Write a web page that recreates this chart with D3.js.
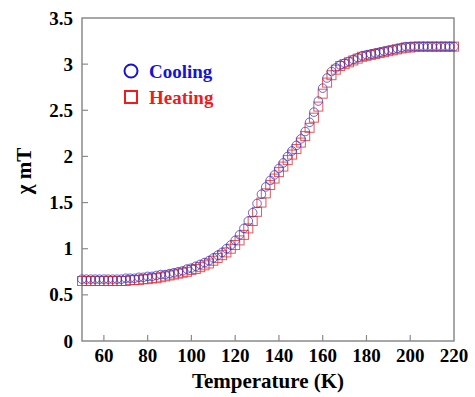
<!DOCTYPE html>
<html>
<head>
<meta charset="utf-8">
<script src="https://cdn.jsdelivr.net/npm/d3@7"></script>
<style>
  body { margin: 0; background: #fff; }
</style>
</head>
<body>
<svg id="Target" width="475" height="397"></svg>
<script>
// temperatures (K), one reading every 2 K
const temps = [50,52,54,56,58,60,62,64,66,68,70,72,74,76,78,80,82,84,86,88,90,92,94,96,98,
    100,102,104,106,108,110,112,114,116,118,120,122,124,126,128,130,132,134,136,138,140,142,144,146,148,
    150,152,154,156,158,160,162,164,166,168,170,172,174,176,178,180,182,184,186,188,190,192,194,196,198,
    200,202,204,206,208,210,212,214,216,218,220];

const cooling = [0.67,0.67,0.67,0.67,0.67,0.67,0.67,0.67,0.67,0.67,0.68,0.68,0.68,0.69,0.69,0.70,0.70,0.71,0.72,0.72,0.73,0.74,0.75,0.76,0.78,
    0.79,0.81,0.83,0.85,0.87,0.90,0.93,0.96,1.00,1.04,1.09,1.15,1.22,1.30,1.39,1.49,1.59,1.67,1.74,1.80,1.87,1.93,2.00,2.06,2.12,
    2.19,2.27,2.37,2.48,2.60,2.74,2.85,2.92,2.96,2.99,3.01,3.03,3.05,3.07,3.09,3.10,3.11,3.12,3.13,3.14,3.15,3.16,3.17,3.18,3.19,
    3.19,3.19,3.19,3.19,3.19,3.19,3.19,3.19,3.19,3.19,3.19];

const heating = [0.65,0.65,0.65,0.65,0.65,0.65,0.65,0.65,0.65,0.65,0.65,0.66,0.66,0.66,0.67,0.67,0.68,0.68,0.69,0.70,0.71,0.72,0.73,0.74,0.75,
    0.77,0.78,0.80,0.82,0.84,0.87,0.90,0.93,0.96,1.00,1.04,1.09,1.15,1.22,1.30,1.40,1.50,1.60,1.69,1.76,1.83,1.89,1.96,2.02,2.08,
    2.15,2.22,2.31,2.42,2.54,2.68,2.80,2.88,2.94,2.98,3.00,3.02,3.04,3.06,3.08,3.09,3.10,3.11,3.12,3.13,3.14,3.15,3.16,3.17,3.18,
    3.18,3.19,3.19,3.19,3.19,3.19,3.19,3.19,3.19,3.19,3.19];

const xTicks = [60,80,100,120,140,160,180,200,220];
const yTicks = [0,0.5,1,1.5,2,2.5,3,3.5];

const FONT = '"Liberation Serif"';

const svg = d3.select("#Target");
const pLeft = 82, pRight = 454, pTop = 18, pBottom = 341;

const x = d3.scaleLinear().domain([50, 220]).range([pLeft, pRight]);
const y = d3.scaleLinear().domain([0, 3.5]).range([pBottom, pTop]);

// frame
svg.append("rect")
    .attr("x", pLeft).attr("y", pTop)
    .attr("width", pRight - pLeft).attr("height", pBottom - pTop)
    .attr("fill", "none")
    .attr("stroke", "#8a8a8a")
    .attr("stroke-width", 1.5);

// inward ticks
svg.selectAll("line.xt")
    .data(xTicks.filter(d => d < 220))
    .enter().append("line")
    .attr("x1", d => x(d)).attr("x2", d => x(d))
    .attr("y1", pBottom).attr("y2", pBottom - 6)
    .attr("stroke", "#8a8a8a").attr("stroke-width", 1.2);

svg.selectAll("line.yt")
    .data(yTicks.filter(d => d > 0 && d < 3.5))
    .enter().append("line")
    .attr("x1", pLeft).attr("x2", pLeft + 6)
    .attr("y1", d => y(d)).attr("y2", d => y(d))
    .attr("stroke", "#8a8a8a").attr("stroke-width", 1.2);

// tick labels
svg.selectAll("text.xl")
    .data(xTicks)
    .enter().append("text")
    .attr("x", d => x(d))
    .attr("y", 362)
    .attr("text-anchor", "middle")
    .attr("font-size", 19).attr("font-weight", "bold")
    .style("font-family", FONT)
    .text(d => d);

svg.selectAll("text.yl")
    .data(yTicks)
    .enter().append("text")
    .attr("x", 73)
    .attr("y", d => y(d) + 6.5)
    .attr("text-anchor", "end")
    .attr("font-size", 19).attr("font-weight", "bold")
    .style("font-family", FONT)
    .text(d => d);

// axis titles
svg.append("text")
    .attr("x", (pLeft + pRight) / 2)
    .attr("y", 388)
    .attr("text-anchor", "middle")
    .attr("font-size", 21).attr("font-weight", "bold")
    .style("font-family", FONT)
    .text("Temperature (K)");

svg.append("text")
    .attr("transform", "translate(31,171) rotate(-90)")
    .attr("text-anchor", "middle")
    .attr("font-size", 21).attr("font-weight", "bold")
    .style("font-family", FONT)
    .text("χ mT");

// data
const heatPts = temps.map((t, i) => ({ t: t, v: heating[i] }));
const coolPts = temps.map((t, i) => ({ t: t, v: cooling[i] }));

svg.selectAll("rect.heat")
    .data(heatPts)
    .enter().append("rect")
    .attr("x", d => x(d.t) - 4.5)
    .attr("y", d => y(d.v) - 4.5)
    .attr("width", 9).attr("height", 9)
    .attr("fill", "none")
    .attr("stroke", "#e52a2a")
    .attr("stroke-opacity", 0.8)
    .attr("stroke-width", 1);

svg.selectAll("circle.cool")
    .data(coolPts)
    .enter().append("circle")
    .attr("cx", d => x(d.t))
    .attr("cy", d => y(d.v))
    .attr("r", 4.3)
    .attr("fill", "none")
    .attr("stroke", "#3535c8")
    .attr("stroke-opacity", 0.75)
    .attr("stroke-width", 1);

// legend
svg.append("circle")
    .attr("cx", 131).attr("cy", 71).attr("r", 6.5)
    .attr("fill", "none").attr("stroke", "#1515d0").attr("stroke-width", 2);
svg.append("text")
    .attr("x", 149).attr("y", 78)
    .attr("font-size", 19).attr("font-weight", "bold")
    .style("font-family", FONT)
    .attr("fill", "#1515d0")
    .text("Cooling");

svg.append("rect")
    .attr("x", 125).attr("y", 91).attr("width", 12).attr("height", 12)
    .attr("fill", "none").attr("stroke", "#ee1c1c").attr("stroke-width", 2);
svg.append("text")
    .attr("x", 149).attr("y", 104)
    .attr("font-size", 19).attr("font-weight", "bold")
    .style("font-family", FONT)
    .attr("fill", "#ee1c1c")
    .text("Heating");
</script>
</body>
</html>
